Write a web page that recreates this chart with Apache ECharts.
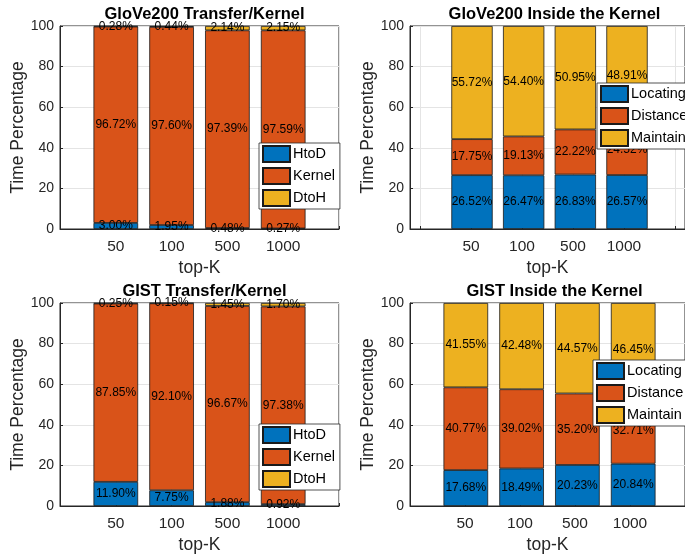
<!DOCTYPE html>
<html><head><meta charset="utf-8">
<script src="https://cdn.jsdelivr.net/npm/echarts@6/dist/echarts.min.js"></script>
<style>html,body{margin:0;padding:0;background:#fff}#c{width:685px;height:556px}</style>
</head><body><div id="c"></div>
<script>
// ---- data ----
const categories = ['50', '100', '500', '1000'];
const positions = [1, 2, 3, 4];
const xTicks = [0, 1, 2, 3, 4, 5];

const titles = ['GloVe200 Transfer/Kernel', 'GloVe200 Inside the Kernel', 'GIST Transfer/Kernel', 'GIST Inside the Kernel'];
const transferNames = ['HtoD', 'Kernel', 'DtoH'];
const kernelNames = ['Locating', 'Distance', 'Maintain'];

const gloveHtoD = [3.00, 1.95, 0.48, 0.27];
const gloveKernel = [96.72, 97.60, 97.39, 97.59];
const gloveDtoH = [0.28, 0.44, 2.14, 2.15];

const gloveLocating = [26.52, 26.47, 26.83, 26.57];
const gloveDistance = [17.75, 19.13, 22.22, 24.52];
const gloveMaintain = [55.72, 54.40, 50.95, 48.91];

const gistHtoD = [11.90, 7.75, 1.88, 0.92];
const gistKernel = [87.85, 92.10, 96.67, 97.38];
const gistDtoH = [0.25, 0.15, 1.45, 1.70];

const gistLocating = [17.68, 18.49, 20.23, 20.84];
const gistDistance = [40.77, 39.02, 35.20, 32.71];
const gistMaintain = [41.55, 42.48, 44.57, 46.45];

// ---- styling ----
const colors = ['#0072BD', '#D95319', '#EDB120'];
const FONT = '"Liberation Sans", Arial, Helvetica, sans-serif';
const AX = '#262626';
const GRIDC = '#e4e4e4';

const panels = [
  { title: titles[0], names: transferNames, values: [gloveHtoD, gloveKernel, gloveDtoH], xmin: 0, xmax: 5,
    grid: { left: 60, top: 26, width: 279, height: 203 }, legend: { left: 259, top: 143 } },
  { title: titles[1], names: kernelNames, values: [gloveLocating, gloveDistance, gloveMaintain], xmin: -0.2, xmax: 5.2,
    grid: { left: 410, top: 26, width: 279, height: 203 }, legend: { left: 597, top: 83 } },
  { title: titles[2], names: transferNames, values: [gistHtoD, gistKernel, gistDtoH], xmin: 0, xmax: 5,
    grid: { left: 60, top: 303, width: 279, height: 203 }, legend: { left: 259, top: 424 } },
  { title: titles[3], names: kernelNames, values: [gistLocating, gistDistance, gistMaintain], xmin: 0, xmax: 5,
    grid: { left: 410, top: 303, width: 279, height: 203 }, legend: { left: 593, top: 360 } }
];

const option = {
  animation: false,
  backgroundColor: '#fff',
  textStyle: { fontFamily: FONT },
  title: [], grid: [], xAxis: [], yAxis: [], legend: [], series: []
};

const N = panels.length;
// frame grids (axes, ticks, grid lines, box)
panels.forEach((p, k) => {
  const g = p.grid;
  option.title.push({
    text: p.title, left: g.left + g.width / 2, top: g.top - 25.5, textAlign: 'center',
    textStyle: { fontSize: 16.5, fontWeight: 'bold', color: '#000', fontFamily: FONT }
  });
  option.grid.push({ left: g.left, top: g.top, width: g.width, height: g.height,
    show: true, borderColor: AX, borderWidth: 1, backgroundColor: '#fff' });
  option.xAxis.push({
    gridIndex: k, type: 'value', min: p.xmin, max: p.xmax,
    name: 'top-K', nameLocation: 'middle', nameGap: 30,
    nameTextStyle: { fontSize: 17.5, color: AX, fontFamily: FONT },
    axisLine: { show: true, onZero: false, lineStyle: { color: AX, width: 1 } },
    axisTick: { show: true, inside: true, length: 3, customValues: xTicks, lineStyle: { color: AX } },
    axisLabel: { show: true, customValues: positions, fontSize: 15.5, color: AX, margin: 10, fontFamily: FONT,
      formatter: v => categories[positions.indexOf(Math.round(v))] || '' },
    splitLine: { show: true, lineStyle: { color: GRIDC } }
  });
  option.yAxis.push({
    gridIndex: k, type: 'value', min: 0, max: 100, interval: 20,
    name: 'Time Percentage', nameLocation: 'middle', nameGap: 32.5,
    nameTextStyle: { fontSize: 17.5, color: AX, fontFamily: FONT },
    axisLine: { show: true, onZero: false, lineStyle: { color: AX, width: 1 } },
    axisTick: { show: true, inside: true, length: 3, lineStyle: { color: AX } },
    axisLabel: { fontSize: 14, color: AX, margin: 6, fontFamily: FONT },
    splitLine: { show: true, lineStyle: { color: GRIDC } }
  });
  option.legend.push({
    data: p.names, orient: 'vertical', left: p.legend.left, top: p.legend.top,
    itemWidth: 27, itemHeight: 16, itemGap: 4, padding: [2, 5, 2, 3],
    backgroundColor: '#fff', borderColor: AX, borderWidth: 0.8, borderRadius: 0,
    icon: 'rect', selectedMode: false, z: 10,
    textStyle: { fontSize: 14.5, lineHeight: 16, color: '#000', fontFamily: FONT, padding: [0, 0, 0, -2] }
  });
});

// bar grids: category bands aligned with positions 1..4 of the frame axes
panels.forEach((p, k) => {
  const g = p.grid;
  const span = p.xmax - p.xmin;
  const bi = N + k;
  option.grid.push({
    left: g.left + (positions[0] - 0.5 - p.xmin) / span * g.width,
    top: g.top,
    width: categories.length / span * g.width,
    height: g.height,
    show: false
  });
  option.xAxis.push({ gridIndex: bi, type: 'category', data: categories, boundaryGap: true, show: false });
  option.yAxis.push({ gridIndex: bi, type: 'value', min: 0, max: 100, show: false });
  p.names.forEach((name, j) => {
    option.series.push({
      name: name, type: 'bar', stack: 'panel' + k, xAxisIndex: bi, yAxisIndex: bi,
      barWidth: '80%',
      data: p.values[j],
      itemStyle: { color: colors[j], borderColor: '#1a1a1a', borderWidth: 0.8 },
      label: { show: true, position: 'inside', fontSize: 12, color: '#000', fontFamily: FONT,
        formatter: q => q.value.toFixed(2) + '%' }
    });
  });
});

const chart = echarts.init(document.getElementById('c'), null, { renderer: 'canvas' });
chart.setOption(option);
</script>
</body></html>
